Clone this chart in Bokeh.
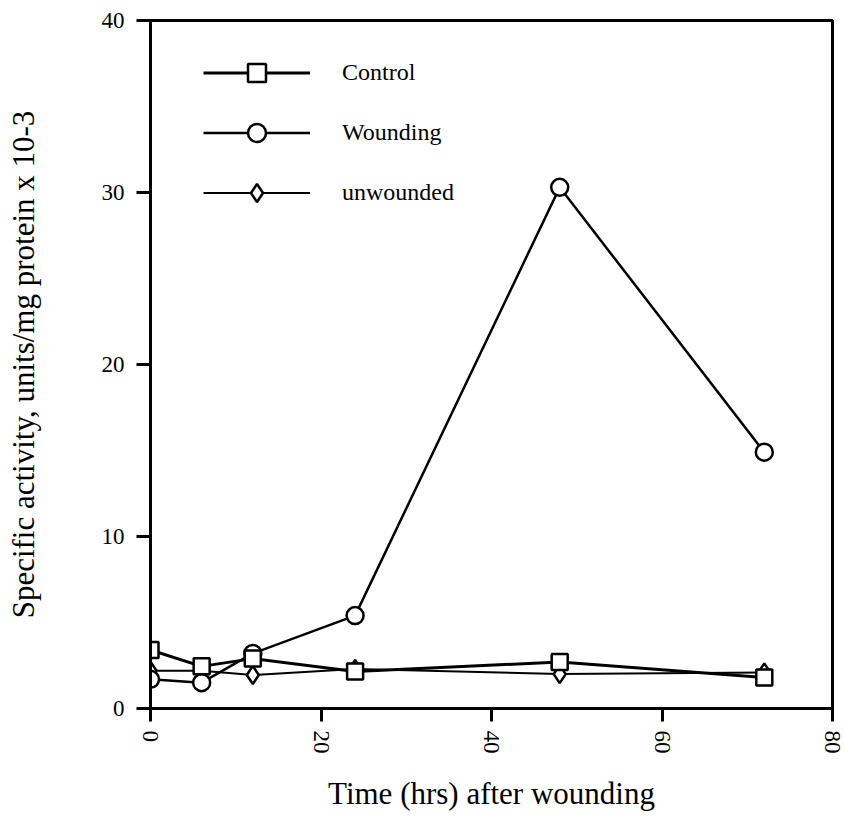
import math
from bokeh.plotting import figure
from bokeh.models import ColumnDataSource, Legend, LegendItem, FixedTicker
from bokeh.embed import file_html
from bokeh.resources import INLINE

# ---- data ----
hours = [0, 6, 12, 24, 48, 72]
control = [3.4, 2.45, 2.9, 2.15, 2.7, 1.8]
wounding = [1.7, 1.5, 3.2, 5.4, 30.3, 14.9]
unwounded = [2.2, 2.2, 1.95, 2.3, 2.0, 2.1]

x_ticks = [0, 20, 40, 60, 80]
y_ticks = [0, 10, 20, 30, 40]

FONT = "Liberation Serif"

p = figure(width=844, height=817, x_range=(0, 80), y_range=(0, 40),
           output_backend="svg", toolbar_location=None,
           min_border_left=150, min_border_right=12,
           min_border_top=20, min_border_bottom=109)
p.background_fill_color = "white"
p.border_fill_color = "white"
p.outline_line_color = "black"
p.outline_line_width = 3
p.grid.visible = False

# axes
p.xaxis.ticker = FixedTicker(ticks=x_ticks)
p.yaxis.ticker = FixedTicker(ticks=y_ticks)
for ax in (p.xaxis, p.yaxis):
    ax.axis_line_width = 3
    ax.axis_line_color = "black"
    ax.major_tick_line_width = 3
    ax.major_tick_line_color = "black"
    ax.major_tick_in = 0
    ax.minor_tick_line_color = None
    ax.major_label_text_font = FONT
    ax.major_label_text_font_size = "23px"
    ax.major_label_text_color = "black"
    ax.axis_label_text_font = FONT
    ax.axis_label_text_font_size = "31px"
    ax.axis_label_text_font_style = "normal"
    ax.axis_label_text_color = "black"

p.xaxis.major_tick_out = 13
p.xaxis.major_label_standoff = 9
p.xaxis.major_label_orientation = "vertical"
p.xaxis.axis_label = "Time (hrs) after wounding"
p.xaxis.axis_label_standoff = 19

p.yaxis.major_tick_out = 14
p.yaxis.major_label_standoff = 12
p.yaxis.axis_label = "Specific activity, units/mg protein x 10-3"
p.yaxis.axis_label_standoff = 58

src_c = ColumnDataSource(dict(x=hours, y=control))
src_w = ColumnDataSource(dict(x=hours, y=wounding))
src_u = ColumnDataSource(dict(x=hours, y=unwounded))

# lines
lu = p.line("x", "y", source=src_u, line_color="black", line_width=2)
lw = p.line("x", "y", source=src_w, line_color="black", line_width=2.5)
lc = p.line("x", "y", source=src_c, line_color="black", line_width=3)

# markers
su = p.scatter("x", "y", source=src_u, marker="diamond", size=18,
               fill_color="white", line_color="black", line_width=2.5)
sw = p.scatter("x", "y", source=src_w, marker="circle", size=17,
               fill_color="white", line_color="black", line_width=2.5)
sc = p.scatter("x", "y", source=src_c, marker="square", size=16,
               fill_color="white", line_color="black", line_width=2.5)

legend = Legend(items=[
    LegendItem(label="Control", renderers=[lc, sc]),
    LegendItem(label="Wounding", renderers=[lw, sw]),
    LegendItem(label="unwounded", renderers=[lu, su]),
], location=(53, 493))
legend.glyph_width = 107
legend.glyph_height = 45
legend.spacing = 15
legend.padding = 0
legend.margin = 0
legend.label_standoff = 32
legend.label_text_font = FONT
legend.label_text_font_size = "24px"
legend.label_text_color = "black"
legend.border_line_color = None
legend.background_fill_alpha = 0
p.add_layout(legend)

open("out.html", "w").write(file_html(p, INLINE))
